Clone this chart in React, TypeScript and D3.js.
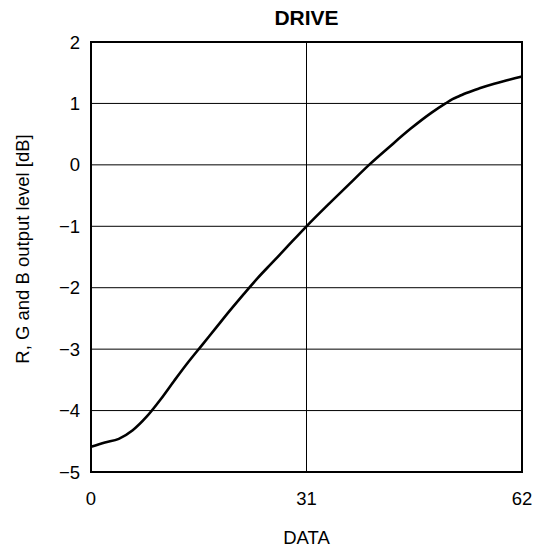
import React from "react";
import * as d3 from "d3";

const dataX = [0, 2, 4, 6, 8, 10, 12, 14, 16, 18, 20, 22, 24, 26, 28, 31, 34, 37, 40, 43, 46, 49, 51, 52, 53, 54, 56, 58, 60, 62];
const dataY = [-4.59, -4.52, -4.46, -4.32, -4.1, -3.82, -3.51, -3.21, -2.93, -2.65, -2.37, -2.1, -1.84, -1.6, -1.36, -1.0, -0.66, -0.33, 0.0, 0.3, 0.59, 0.85, 1.0, 1.07, 1.12, 1.17, 1.25, 1.32, 1.38, 1.44];
const xTicks = [0, 31, 62];
const yTicks = [2, 1, 0, -1, -2, -3, -4, -5];
const title = "DRIVE";
const xLabel = "DATA";
const yLabel = "R, G and B output level [dB]";

const W = 541, H = 552;
const L = 91, R = 522, T = 42, B = 472;
const FONT = "Liberation Sans, Arial, sans-serif";

export default function App() {
  const x = d3.scaleLinear().domain([0, 62]).range([L, R]);
  const y = d3.scaleLinear().domain([-5, 2]).range([B, T]);
  const pts: [number, number][] = dataX.map((d, i) => [d, dataY[i]]);
  const line = d3.line<[number, number]>().x(d => x(d[0])).y(d => y(d[1])).curve(d3.curveMonotoneX);
  const fmt = (v: number) => (v < 0 ? "\u2212" + Math.abs(v) : String(v));
  return (
    <svg width={W} height={H} style={{ position: "absolute", left: 0, top: 0 }} fontFamily={FONT}>
      <rect x={0} y={0} width={W} height={H} fill="white" />
      {yTicks.filter(t => t !== 2 && t !== -5).map(t => (
        <line key={"gy" + t} x1={L} x2={R} y1={y(t)} y2={y(t)} stroke="#000" strokeWidth={1} />
      ))}
      <line x1={x(31)} x2={x(31)} y1={T} y2={B} stroke="#000" strokeWidth={1} />
      <path d={line(pts) || ""} fill="none" stroke="#000" strokeWidth={2.6} />
      <rect x={L} y={T} width={R - L} height={B - T} fill="none" stroke="#000" strokeWidth={2} />
      {yTicks.map(t => (
        <text key={"ty" + t} x={L - 11} y={y(t)} textAnchor="end" dominantBaseline="central" fontSize={18.5}>{fmt(t)}</text>
      ))}
      {xTicks.map(t => (
        <text key={"tx" + t} x={x(t)} y={498} textAnchor="middle" dominantBaseline="central" fontSize={18.5}>{t}</text>
      ))}
      <text x={x(31)} y={537} textAnchor="middle" dominantBaseline="central" fontSize={18.5}>{xLabel}</text>
      <text x={x(31)} y={17} textAnchor="middle" dominantBaseline="central" fontSize={21} fontWeight="bold">{title}</text>
      <text transform={`translate(22,249) rotate(-90)`} textAnchor="middle" dominantBaseline="central" fontSize={18.5}>{yLabel}</text>
    </svg>
  );
}
